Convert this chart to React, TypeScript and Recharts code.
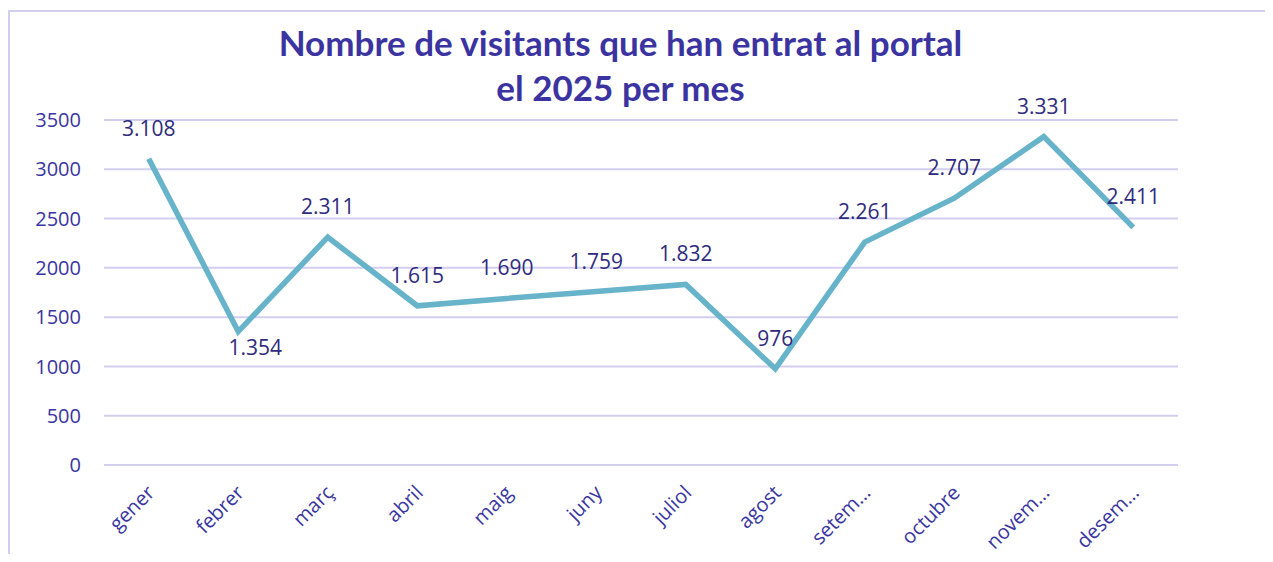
import { CartesianGrid, LabelList, Line, LineChart, XAxis, YAxis } from "recharts";

const months = ["gener", "febrer", "març", "abril", "maig", "juny", "juliol", "agost", "setem…", "octubre", "novem…", "desem…"];
const visitors = [3108, 1354, 2311, 1615, 1690, 1759, 1832, 976, 2261, 2707, 3331, 2411];
const yTicks = [0, 500, 1000, 1500, 2000, 2500, 3000, 3500];

const data = months.map((month, i) => ({ month, visitors: visitors[i] }));

const tickColor = "#3a35a0";
const labelColor = "#2f2b7c";
const gridColor = "#d2cef0";

const formatThousands = (v: number) => String(v).replace(/\B(?=(\d{3})+(?!\d))/g, ".");

function MonthTick({ x, y, payload }: any) {
  return (
    <text
      x={x + 7}
      y={y + 21}
      transform={`rotate(-45 ${x + 7} ${y + 21})`}
      textAnchor="end"
      fill={tickColor}
      fontSize={20}
      fontFamily="'Open Sans', sans-serif"
    >
      {payload.value}
    </text>
  );
}

function ValueLabel({ x, y, value, index }: any) {
  const below = months[index] === "febrer";
  return (
    <text
      x={below ? x + 17 : x}
      y={below ? y + 15 : y - 31}
      textAnchor="middle"
      dominantBaseline="central"
      fill={labelColor}
      fontSize={21}
      fontFamily="'Open Sans', sans-serif"
    >
      {formatThousands(value)}
    </text>
  );
}

export default function App() {
  return (
    <div style={{ position: "relative", width: 1265, height: 546 }}>
      <div
        style={{
          position: "absolute",
          left: 0,
          top: 2,
          width: 1263,
          height: 552,
          borderTop: `2px solid ${gridColor}`,
          borderLeft: `2px solid ${gridColor}`,
        }}
      />
      <div
        style={{
          position: "absolute",
          left: 0,
          top: 12,
          width: 1225,
          textAlign: "center",
          fontFamily: "Lato, sans-serif",
          fontWeight: 700,
          fontSize: 35,
          lineHeight: "45px",
          color: "#3b34a0",
        }}
      >
        Nombre de visitants que han entrat al portal
        <br />
        el 2025 per mes
      </div>
      <LineChart
        width={1265}
        height={546}
        data={data}
        margin={{ top: 112, right: 95, bottom: 9, left: 0 }}
        style={{ position: "absolute", left: 0, top: 0 }}
      >
        <CartesianGrid stroke={gridColor} strokeWidth={2} vertical={false} />
        <XAxis
          dataKey="month"
          interval={0}
          height={80}
          padding={{ left: 44.75, right: 44.75 }}
          axisLine={false}
          tickLine={false}
          tick={<MonthTick />}
        />
        <YAxis
          width={96}
          domain={[0, 3500]}
          ticks={yTicks}
          axisLine={false}
          tickLine={false}
          tickMargin={17}
          tick={{ fill: tickColor, fontSize: 20, fontFamily: "'Open Sans', sans-serif" }}
        />
        <Line
          type="linear"
          dataKey="visitors"
          stroke="#67b3ca"
          strokeWidth={5.5}
          dot={false}
          activeDot={false}
          isAnimationActive={false}
        >
          <LabelList dataKey="visitors" content={<ValueLabel />} />
        </Line>
      </LineChart>
    </div>
  );
}
